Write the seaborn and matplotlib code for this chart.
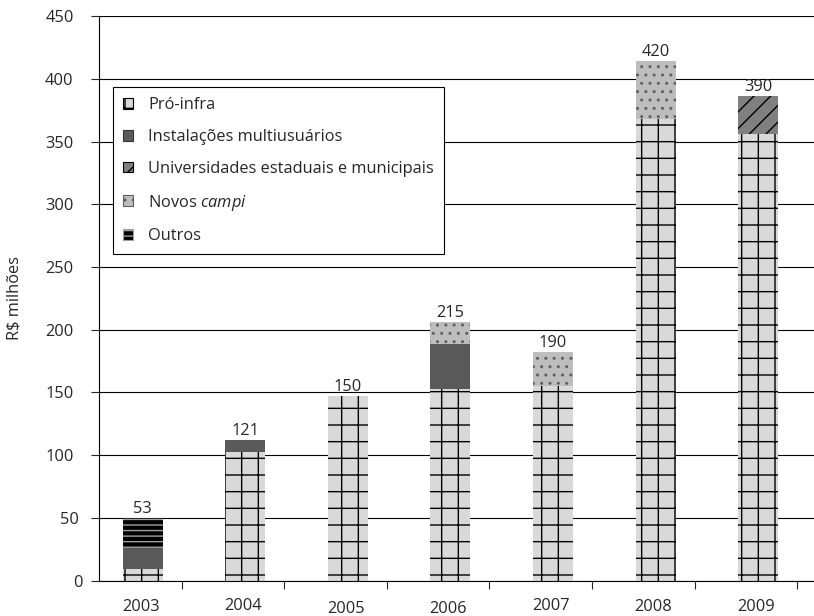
import matplotlib
matplotlib.use("Agg")
import pandas as pd
import matplotlib.pyplot as plt
import matplotlib.transforms as mtransforms
import seaborn as sns
from matplotlib.patches import Patch

# dados (R$ milhões)
anos = ['2003', '2004', '2005', '2006', '2007', '2008', '2009']
pro_infra = [9.5, 102.5, 147.5, 152.5, 155, 368, 356]
multiusuarios = [16.5, 10, 0, 36.5, 0, 0, 0]
universidades = [0, 0, 0, 0, 0, 0, 30]
novos_campi = [0, 0, 0, 17.5, 27, 46, 0]
outros = [24, 0, 0, 0, 0, 0, 0]
rotulos = ['53', '121', '150', '215', '190', '420', '390']
yticks = [0, 50, 100, 150, 200, 250, 300, 350, 400, 450]

sns.set_style("white")
plt.rcParams['font.family'] = ['Open Sans', 'DejaVu Sans']
plt.rcParams['mathtext.fontset'] = 'custom'
plt.rcParams['mathtext.it'] = 'Open Sans:italic'
plt.rcParams['mathtext.rm'] = 'Open Sans'
plt.rcParams['hatch.linewidth'] = 1.0
FS = 11.8

df = pd.DataFrame({
    'ano': anos,
    'Pró-infra': pro_infra,
    'Instalações multiusuários': multiusuarios,
    'Universidades estaduais e municipais': universidades,
    'Novos campi': novos_campi,
    'Outros': outros,
})

# estilos de cada camada: (face, cor da hachura, hachura)
estilos = {
    'Pró-infra': ('#d9d9d9', '#000000', '+'),
    'Instalações multiusuários': ('#595959', '#595959', None),
    'Universidades estaduais e municipais': ('#808080', '#000000', '//'),
    'Novos campi': ('#bdbdbd', '#606060', '..'),
    'Outros': ('#000000', '#a0a0a0', '---'),
}
nomes_legenda = ['Pró-infra', 'Instalações multiusuários',
                 'Universidades estaduais e municipais',
                 r'Novos $\mathit{campi}$', 'Outros']

fig, ax = plt.subplots(figsize=(8.14, 6.16), dpi=100)
fig.subplots_adjust(left=0.1216, right=1.0, top=0.974, bottom=0.0573)

ax.set_axisbelow(True)
ax.grid(axis='y', color='black', linewidth=0.8)

base = [0.0] * len(anos)
for camada, (face, hcor, hatch) in estilos.items():
    vals = df[camada].tolist()
    sns.barplot(x=df['ano'], y=vals, color=face, saturation=1, width=0.39,
                bottom=base, hatch=hatch, edgecolor=hcor, linewidth=0,
                ax=ax)
    base = [b + v for b, v in zip(base, vals)]

# valores no topo das barras
for i, (tot, txt) in enumerate(zip(base, rotulos)):
    ax.annotate(txt, (i, tot), xytext=(0, 3.5), textcoords='offset points',
                ha='center', va='baseline', fontsize=FS)

ax.set_xlim(-0.426, 6.545)
ax.set_ylim(0, 450)
ax.set_yticks(yticks)
ax.tick_params(axis='y', labelsize=FS, length=5.8, width=0.8, direction='out',
               left=True, pad=12.5)

# os rótulos 0 e 50 ficam mais à direita no original
desloc_y = {0: 9, 50: 5}
for lbl, v in zip(ax.get_yticklabels(), yticks):
    dx = desloc_y.get(v, 0) / 100
    lbl.set_transform(lbl.get_transform() +
                      mtransforms.ScaledTranslation(dx, 0, fig.dpi_scale_trans))

# marcas do eixo x entre as categorias, rótulos posicionados à mão
ax.set_xticks([i + 0.38 for i in range(len(anos))])
ax.set_xticklabels([])
ax.tick_params(axis='x', length=5.8, width=0.8, direction='out', bottom=True)
desloc_x = [26.5, 25, 28, 28.5, 25, 26.5, 26.5]  # px abaixo do eixo
for i, (ano, d) in enumerate(zip(anos, desloc_x)):
    ax.annotate(ano, (i - 0.02, 0), xycoords=('data', 'axes fraction'),
                xytext=(0, -d * 0.72), textcoords='offset points',
                ha='center', va='center', fontsize=FS)

ax.set_xlabel('')
ax.set_ylabel('R$ milhões', fontsize=FS, labelpad=16)

for s in ['top', 'right']:
    ax.spines[s].set_visible(False)
for s in ['left', 'bottom']:
    ax.spines[s].set_color('black')
    ax.spines[s].set_linewidth(0.8)

handles = []
for (camada, (face, hcor, hatch)) in estilos.items():
    handles.append(Patch(facecolor=face, edgecolor=hcor if hatch else '#333333',
                         hatch=hatch, linewidth=0.8))
leg = ax.legend(handles, nomes_legenda, loc='upper left',
                bbox_to_anchor=(0.0195, 0.874), borderaxespad=0,
                fontsize=FS, frameon=True, fancybox=False, framealpha=1,
                edgecolor='black', handlelength=0.62, handleheight=0.62,
                handletextpad=0.9, labelspacing=0.96, borderpad=0.62)
leg.get_frame().set_linewidth(0.8)

plt.savefig('out.png', dpi=100)
